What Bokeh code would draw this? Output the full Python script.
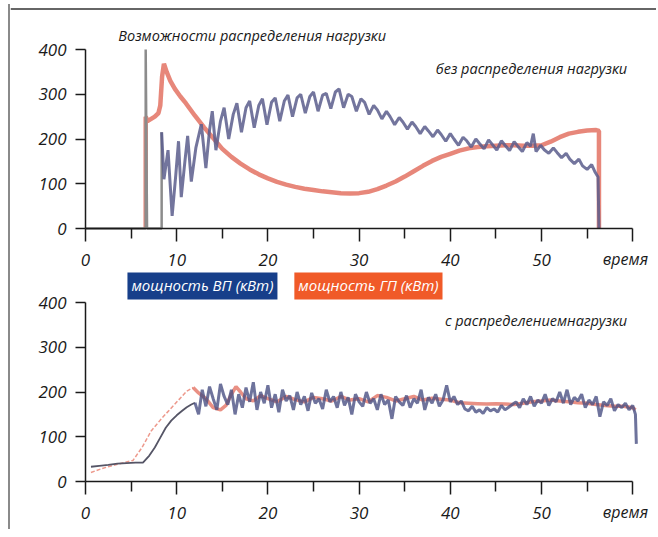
from bokeh.plotting import figure
from bokeh.models import FixedTicker, Label, Range1d, Span
from bokeh.layouts import column
from bokeh.embed import file_html
from bokeh.resources import INLINE

# ---------------- data ----------------
x_major = [0, 10, 20, 30, 40, 50, 60]
x_minor = [5, 15, 25, 35, 45, 55]
y_ticks = [0, 100, 200, 300, 400]

# top panel: without load distribution
top_vp_t = [0, 6.6, 6.6, 6.75, 8.35, 8.35,
            8.6, 9.05, 9.5, 9.9, 10.2, 10.5, 10.9, 11.2, 11.6, 12.1,
            12.7, 13.2, 13.6, 13.9, 14.3, 14.8, 15.2, 15.7, 16.2, 16.6,
            17.1, 17.6, 18.0, 18.5, 19.0, 19.4, 19.9, 20.4, 20.8, 21.3,
            21.8, 22.2, 22.7, 23.2, 23.6, 24.1, 24.6, 25.0, 25.5, 26.0,
            26.4, 26.9, 27.4, 27.8, 28.3, 28.8, 29.2, 29.7, 30.2, 30.6,
            31.1, 31.6, 32.0, 32.5, 33.0, 33.4, 33.9, 34.4, 34.8, 35.3,
            35.8, 36.2, 36.7, 37.2, 37.6, 38.1, 38.6, 39.0, 39.5, 40.0,
            40.4, 40.9, 41.4, 41.8, 42.3, 42.8, 43.2, 43.7, 44.2, 44.6,
            45.1, 45.6, 46.0, 46.5, 47.0, 47.4, 47.9, 48.4, 48.8, 49.1,
            49.4, 49.9, 50.3, 50.8, 51.3, 51.7, 52.2, 52.7, 53.1, 53.6,
            54.1, 54.5, 55.0, 55.5, 55.9, 56.2, 56.3]
top_vp_v = [0, 0, 400, 0, 0, 215,
            110, 175, 28, 120, 195, 70, 150, 207, 105, 180,
            233, 135, 220, 262, 175, 240, 270, 200, 255, 280,
            215, 270, 285, 225, 275, 290, 232, 282, 292, 240,
            285, 298, 250, 292, 300, 258, 295, 305, 262, 298,
            302, 268, 305, 312, 270, 300, 295, 262, 290, 282,
            255, 275, 265, 245, 262, 250, 232, 248, 238, 222,
            238, 228, 212, 228, 218, 205, 220, 210, 195, 212,
            200, 186, 204, 196, 182, 200, 190, 178, 198, 188,
            175, 196, 186, 174, 194, 184, 172, 192, 184, 212,
            172, 186, 176, 168, 180, 170, 158, 168, 155, 145,
            155, 140, 132, 143, 125, 115, 0]

top_gp_t = [6.6, 6.6, 6.8, 7.2, 7.6, 8.0, 8.2, 8.4, 8.6,
            8.9, 9.3, 9.8, 10.4, 11.0,
            12, 13, 14, 15, 16, 17, 18, 19, 20, 21,
            22, 23, 24, 25, 26, 27, 28, 29, 30, 31,
            32, 33, 34, 35, 36, 37, 38, 39, 40, 41,
            42, 43, 44, 45, 46, 47, 48, 49, 50, 51,
            52, 53, 54, 55, 56, 56.3, 56.3]
top_gp_v = [0, 250, 240, 245, 250, 258, 275, 340, 368,
            350, 330, 312, 295, 280,
            252, 226, 202, 178, 160, 145, 132, 121, 112, 104,
            98, 93, 89, 86, 83, 81, 79, 78, 79, 82,
            88, 96, 105, 116, 128, 140, 151, 160, 167, 174,
            179, 182, 184, 185, 186, 186, 185, 185, 186, 194,
            204, 212, 216, 219, 220, 218, 0]

# bottom panel: with load distribution
bot_vp_t = [0.6, 1.5, 2.5, 3.5, 4.5, 5.5, 6.3, 7.0, 7.6, 8.2, 8.8, 9.4,
            10.0, 10.6, 11.1, 11.6, 12.0,
            12.4, 12.8, 13.2, 13.6, 14.0, 14.4, 14.8, 15.2, 15.6, 16.0,
            16.4, 16.8, 17.2, 17.6, 18.0, 18.4, 18.8, 19.2, 19.6, 20.0,
            20.4, 20.8, 21.2, 21.6, 22.0, 22.4, 22.8, 23.2, 23.6, 24.0,
            24.4, 24.8, 25.2, 25.6, 26.0, 26.4, 26.8, 27.2, 27.6, 28.0,
            28.4, 28.8, 29.2, 29.6, 30.0, 30.4, 30.8, 31.2, 31.6, 32.0,
            32.4, 32.8, 33.2, 33.6, 34.0, 34.4, 34.8, 35.2, 35.6, 36.0,
            36.4, 36.8, 37.2, 37.6, 38.0, 38.4, 38.8, 39.2, 39.6, 40.0,
            40.4, 40.8, 41.2, 41.6, 42.0, 42.4, 42.8, 43.2, 43.6, 44.0,
            44.4, 44.8, 45.2, 45.6, 46.0, 46.4, 46.8, 47.2, 47.6, 48.0,
            48.4, 48.8, 49.2, 49.6, 50.0, 50.4, 50.8, 51.2, 51.6, 52.0,
            52.4, 52.8, 53.2, 53.6, 54.0, 54.4, 54.8, 55.2, 55.6, 56.0,
            56.4, 56.8, 57.2, 57.6, 58.0, 58.4, 58.8, 59.2, 59.6, 60.0,
            60.3, 60.4]
bot_vp_v = [33, 35, 37, 40, 41, 42, 42, 58, 76, 98, 120, 136,
            148, 158, 166, 172, 176,
            150, 205, 168, 212, 185, 160, 218, 190, 172, 205,
            150, 195, 165, 210, 178, 222, 160, 200, 175, 215,
            165, 195, 155, 205, 180, 192, 160, 200, 172, 190,
            158, 198, 175, 185, 162, 205, 178, 190, 165, 200,
            170, 188, 150, 195, 178, 168, 200, 175, 185, 160,
            195, 172, 182, 140, 190, 178, 170, 192, 165, 185,
            175, 205, 160, 188, 175, 195, 168, 182, 215, 178,
            190, 172, 180, 162, 158, 168, 155, 160, 152, 165,
            158, 162, 155, 170, 160, 166, 172, 178, 165, 185,
            172, 190, 168, 182, 175, 195, 170, 185, 178, 200,
            175, 205, 172, 188, 180, 195, 165, 182, 172, 190,
            145, 178, 170, 185, 158, 172, 165, 175, 160, 170,
            150, 84]

bot_gp_t = [0.6, 1.8, 3.4, 5.2, 6.2, 7.2, 8.4, 9.8, 11.1, 11.8,
            12.4, 13.2, 14.0, 14.8, 15.4, 16.0, 16.5, 17.0, 17.6, 18.4,
            19.2, 20.0, 21, 22, 23, 24, 25, 26, 27, 28,
            29, 30, 31, 32, 33, 34, 35, 36, 37, 38,
            39, 40, 41, 42, 43, 44, 45, 46, 47, 48,
            49, 50, 51, 52, 53, 54, 55, 56, 57, 58,
            59, 60, 60.3]
bot_gp_v = [20, 29, 38, 47, 76, 113, 142, 173, 202, 210,
            198, 185, 165, 160, 170, 195, 212, 200, 185, 180,
            192, 185, 178, 190, 183, 178, 188, 185, 180, 190,
            182, 185, 178, 192, 188, 180, 185, 190, 182, 186,
            184, 182, 176, 175, 174, 173, 174, 173, 172, 175,
            178, 180, 182, 180, 178, 176, 175, 172, 170, 168,
            168, 165, 160]

# ---------------- styling ----------------
FONT = "Open Sans"
PX_X = 9.12           # pixels per time unit
PX_Y = 0.4475         # pixels per kW
FIG_W = 646
ZERO_X = 75           # distance of t = 0 from the figure's left edge
X_START = -ZERO_X / PX_X
X_END = (FIG_W - ZERO_X) / PX_X
TOP = 4               # page y of the first figure's top edge


def make_fig(height, above_zero, below_zero):
    # the frame fills the whole canvas; both axes are pinned at zero
    p = figure(width=FIG_W, height=height,
               x_range=Range1d(X_START, X_END),
               y_range=Range1d(-below_zero / PX_Y, above_zero / PX_Y),
               output_backend="svg", toolbar_location=None,
               min_border_left=0, min_border_right=0,
               min_border_top=0, min_border_bottom=0)
    p.outline_line_color = None
    p.grid.visible = False
    p.background_fill_color = "white"
    p.border_fill_color = "white"

    xa = p.xaxis[0]
    xa.fixed_location = 0
    xa.ticker = FixedTicker(ticks=x_major, minor_ticks=x_minor)
    xa.bounds = (0, 60)
    xa.major_label_overrides = {60: ""}
    xa.axis_line_width = 1.5
    xa.axis_line_color = "#1a1a1a"
    xa.major_tick_in = 0
    xa.major_tick_out = 13
    xa.minor_tick_in = 0
    xa.minor_tick_out = 10
    xa.major_tick_line_width = 1.5
    xa.minor_tick_line_width = 1.5
    xa.major_tick_line_color = "#1a1a1a"
    xa.minor_tick_line_color = "#1a1a1a"
    xa.major_label_standoff = 12
    xa.major_label_text_font = FONT
    xa.major_label_text_font_style = "italic"
    xa.major_label_text_font_size = "17px"
    xa.major_label_text_color = "#1a1a1a"

    ya = p.yaxis[0]
    ya.fixed_location = 0
    ya.ticker = FixedTicker(ticks=y_ticks)
    ya.bounds = (0, 400)
    ya.axis_line_width = 1.5
    ya.axis_line_color = "#1a1a1a"
    ya.major_tick_in = 0
    ya.major_tick_out = 10
    ya.minor_tick_line_color = None
    ya.major_tick_line_width = 1.5
    ya.major_tick_line_color = "#1a1a1a"
    ya.major_label_standoff = 9
    ya.major_label_text_font = FONT
    ya.major_label_text_font_style = "italic"
    ya.major_label_text_font_size = "17px"
    ya.major_label_text_color = "#1a1a1a"
    return p


def text_label(p, x, y, text, align="left", size="15px", color="#1a1a1a", **kw):
    lab = Label(x=x, y=y, text=text, text_font=FONT, text_font_style="italic",
                text_font_size=size, text_color=color, text_align=align,
                text_baseline="middle", **kw)
    p.add_layout(lab)
    return lab


# ---- top figure (canvas y TOP .. 272, zero line at 228) ----
p1 = make_fig(272 - TOP, 228 - TOP, 272 - 228)
# thin dark rule along the top edge of the picture frame
p1.add_layout(Span(location=(228 - 8.5) / PX_Y, dimension="width",
                   line_color="#333333", line_width=1.5))
p1.line(top_gp_t, top_gp_v, color="#dd5442", line_width=4.5, alpha=0.7)
p1.line(top_vp_t[:6], top_vp_v[:6], color="#8c8c8c", line_width=2.5)
p1.line(top_vp_t[5:], top_vp_v[5:], color="#5a5d8c", line_width=3, alpha=0.85)
text_label(p1, 3.6, 431, "Возможности распределения нагрузки", size="14.5px")
text_label(p1, 59.4, 357, "без распределения нагрузки", align="right", size="14.5px")
text_label(p1, 59.2, 0, "время", align="center", size="16px", y_offset=-30)

# ---- bottom figure (canvas y 272 .. 529, zero line at 481) ----
p2 = make_fig(257, 481 - 272, 529 - 481)
p2.line(bot_gp_t[:10], bot_gp_v[:10], color="#e8806f", line_width=1.5,
        alpha=0.8, line_dash="4 2")
p2.line(bot_gp_t[9:], bot_gp_v[9:], color="#dd5442", line_width=3.5, alpha=0.65)
p2.line(bot_vp_t[:17], bot_vp_v[:17], color="#555566", line_width=1.8)
p2.line(bot_vp_t[16:], bot_vp_v[16:], color="#4a5083", line_width=3, alpha=0.8)
text_label(p2, 59.4, 360, "с распределениемнагрузки", align="right", size="14.5px")
text_label(p2, 59.2, 0, "время", align="center", size="16px", y_offset=-30)
text_label(p2, 4.6, 438, "мощность ВП (кВт)", color="white", size="15px",
           background_fill_color="#173f8a", padding=4)
text_label(p2, 22.9, 438, "мощность ГП (кВт)", color="white", size="15px",
           background_fill_color="#f05a28", padding=4)

layout = column(p1, p2, margin=(TOP, 0, 0, 8),
                styles={"border-left": "2px solid #8a8a8a"})

open("out.html", "w").write(file_html(layout, INLINE))
